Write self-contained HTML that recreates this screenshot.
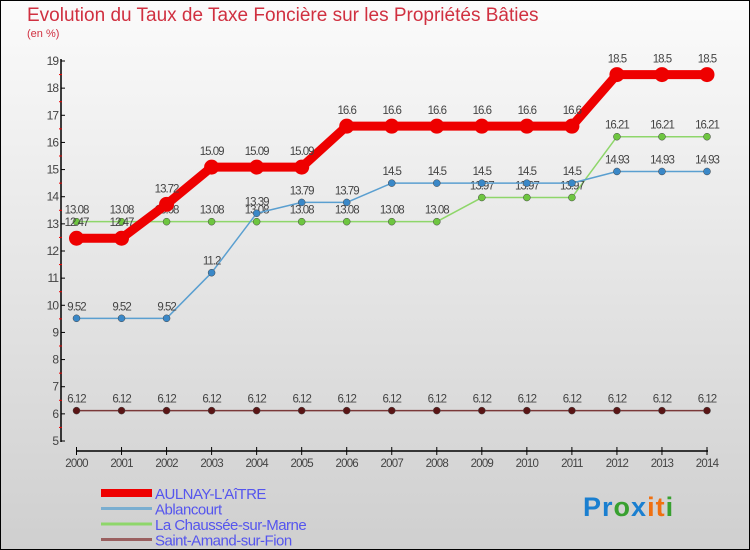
<!DOCTYPE html>
<html><head><meta charset="utf-8"><style>
body{margin:0;}
#c{width:750px;height:550px;position:relative;box-sizing:border-box;border:1px solid #000;background:linear-gradient(#fbfbfb,#cfcfcf);font-family:"Liberation Sans",sans-serif;overflow:hidden}
.t{position:absolute;left:26px;top:4px;font-size:19px;color:#d03040}
.u{position:absolute;left:26px;top:27px;font-size:11px;color:#d03040}
svg{position:absolute;left:0;top:0}
</style></head><body>
<div id="c">
<div class="t">Evolution du Taux de Taxe Foncière sur les Propriétés Bâties</div>
<div class="u">(en %)</div>
<svg id="s" width="750" height="550"></svg>
</div>
<script>
const years=[2000,2001,2002,2003,2004,2005,2006,2007,2008,2009,2010,2011,2012,2013,2014];
const aulnay=[12.47,12.47,13.72,15.09,15.09,15.09,16.6,16.6,16.6,16.6,16.6,16.6,18.5,18.5,18.5];
const ablancourt=[9.52,9.52,9.52,11.2,13.39,13.79,13.79,14.5,14.5,14.5,14.5,14.5,14.93,14.93,14.93];
const chaussee=[13.08,13.08,13.08,13.08,13.08,13.08,13.08,13.08,13.08,13.97,13.97,13.97,16.21,16.21,16.21];
const amand=[6.12,6.12,6.12,6.12,6.12,6.12,6.12,6.12,6.12,6.12,6.12,6.12,6.12,6.12,6.12];
const yTicks=[5,6,7,8,9,10,11,12,13,14,15,16,17,18,19];
const names=["AULNAY-L'AîTRE","Ablancourt","La Chaussée-sur-Marne","Saint-Amand-sur-Fion"];
const NS="http://www.w3.org/2000/svg",s=document.getElementById('s');
const X=i=>75.5+i*(706-75.5)/(years.length-1);
const Y=v=>440-(v-5)*(380/14);
function el(t,a,p){const e=document.createElementNS(NS,t);for(const k in a)e.setAttribute(k,a[k]);(p||s).appendChild(e);return e;}
let ax=el('line',{x1:60,y1:58,x2:60,y2:441,stroke:'#000','stroke-width':1.5});


let xa=el('line',{x1:75,y1:450,x2:707,y2:450,stroke:'#000','stroke-width':1.5});


yTicks.forEach(v=>{el('line',{x1:60,x2:64,y1:Y(v),y2:Y(v),stroke:'#000'});
 if(v<19)el('line',{x1:58,x2:61,y1:Y(v+0.5),y2:Y(v+0.5),stroke:'#e00'});
 const t=el('text',{x:57,y:Y(v)+4,'text-anchor':'end','font-size':12,fill:'#444','letter-spacing':'-1'});t.textContent=v;
 
 });
years.forEach((yr,i)=>{el('line',{x1:X(i),x2:X(i),y1:446,y2:454,stroke:'#000'});
 const t=el('text',{x:X(i),y:466,'text-anchor':'middle','font-size':11.5,fill:'#444','letter-spacing':'-0.8'});t.textContent=yr;
 
 });
const series=[[amand,'#7a3838','#5a1515',1.5,3.5],[chaussee,'#8ed66a','#6ec640',1.5,3.5],[ablancourt,'#5a9fd0','#3a88c8',1.5,3.5],[aulnay,'#ee0000','#ee0000',9,7.5]];
series.forEach(([d,c,pc,w,r],si)=>{
 const p=el('polyline',{points:d.map((v,i)=>X(i)+','+Y(v)).join(' '),fill:'none',stroke:c,'stroke-width':w,'stroke-linejoin':'round'});
 
 
 d.forEach((v,i)=>{const m=el('circle',{cx:X(i),cy:Y(v),r:r,fill:pc,stroke:si==3?'none':'#444','stroke-width':0.5});
  
  
  const t=el('text',{x:X(i),y:Y(v)-(si==3?12:8),'text-anchor':'middle','font-size':11.5,fill:'#444','letter-spacing':'-1'});t.textContent=v;
  
  });
});
const lc=['#ee0000','#7aaed0','#8ed66a','#9a6060'],lw=[8,3,3,3];
names.forEach((n,i)=>{const y=492+i*15.5;
 const l=el('line',{x1:100,x2:151,y1:y,y2:y,stroke:lc[i],'stroke-width':lw[i]});
 
 
 const t=el('text',{x:154,y:y+6,'font-size':15,fill:'#5555ee','letter-spacing':'-0.5'});t.textContent=n;
 
 });
const logo=el('text',{x:582,y:515,'font-size':27,'font-weight':'bold','letter-spacing':'1'});


[['Pr','#1a7fd0'],['o','#38a030'],['x','#1a7fd0'],['it','#f07010'],['i','#38a030']].forEach(([t,c])=>{const sp=el('tspan',{fill:c},logo);sp.textContent=t;});
</script>
</body></html>
